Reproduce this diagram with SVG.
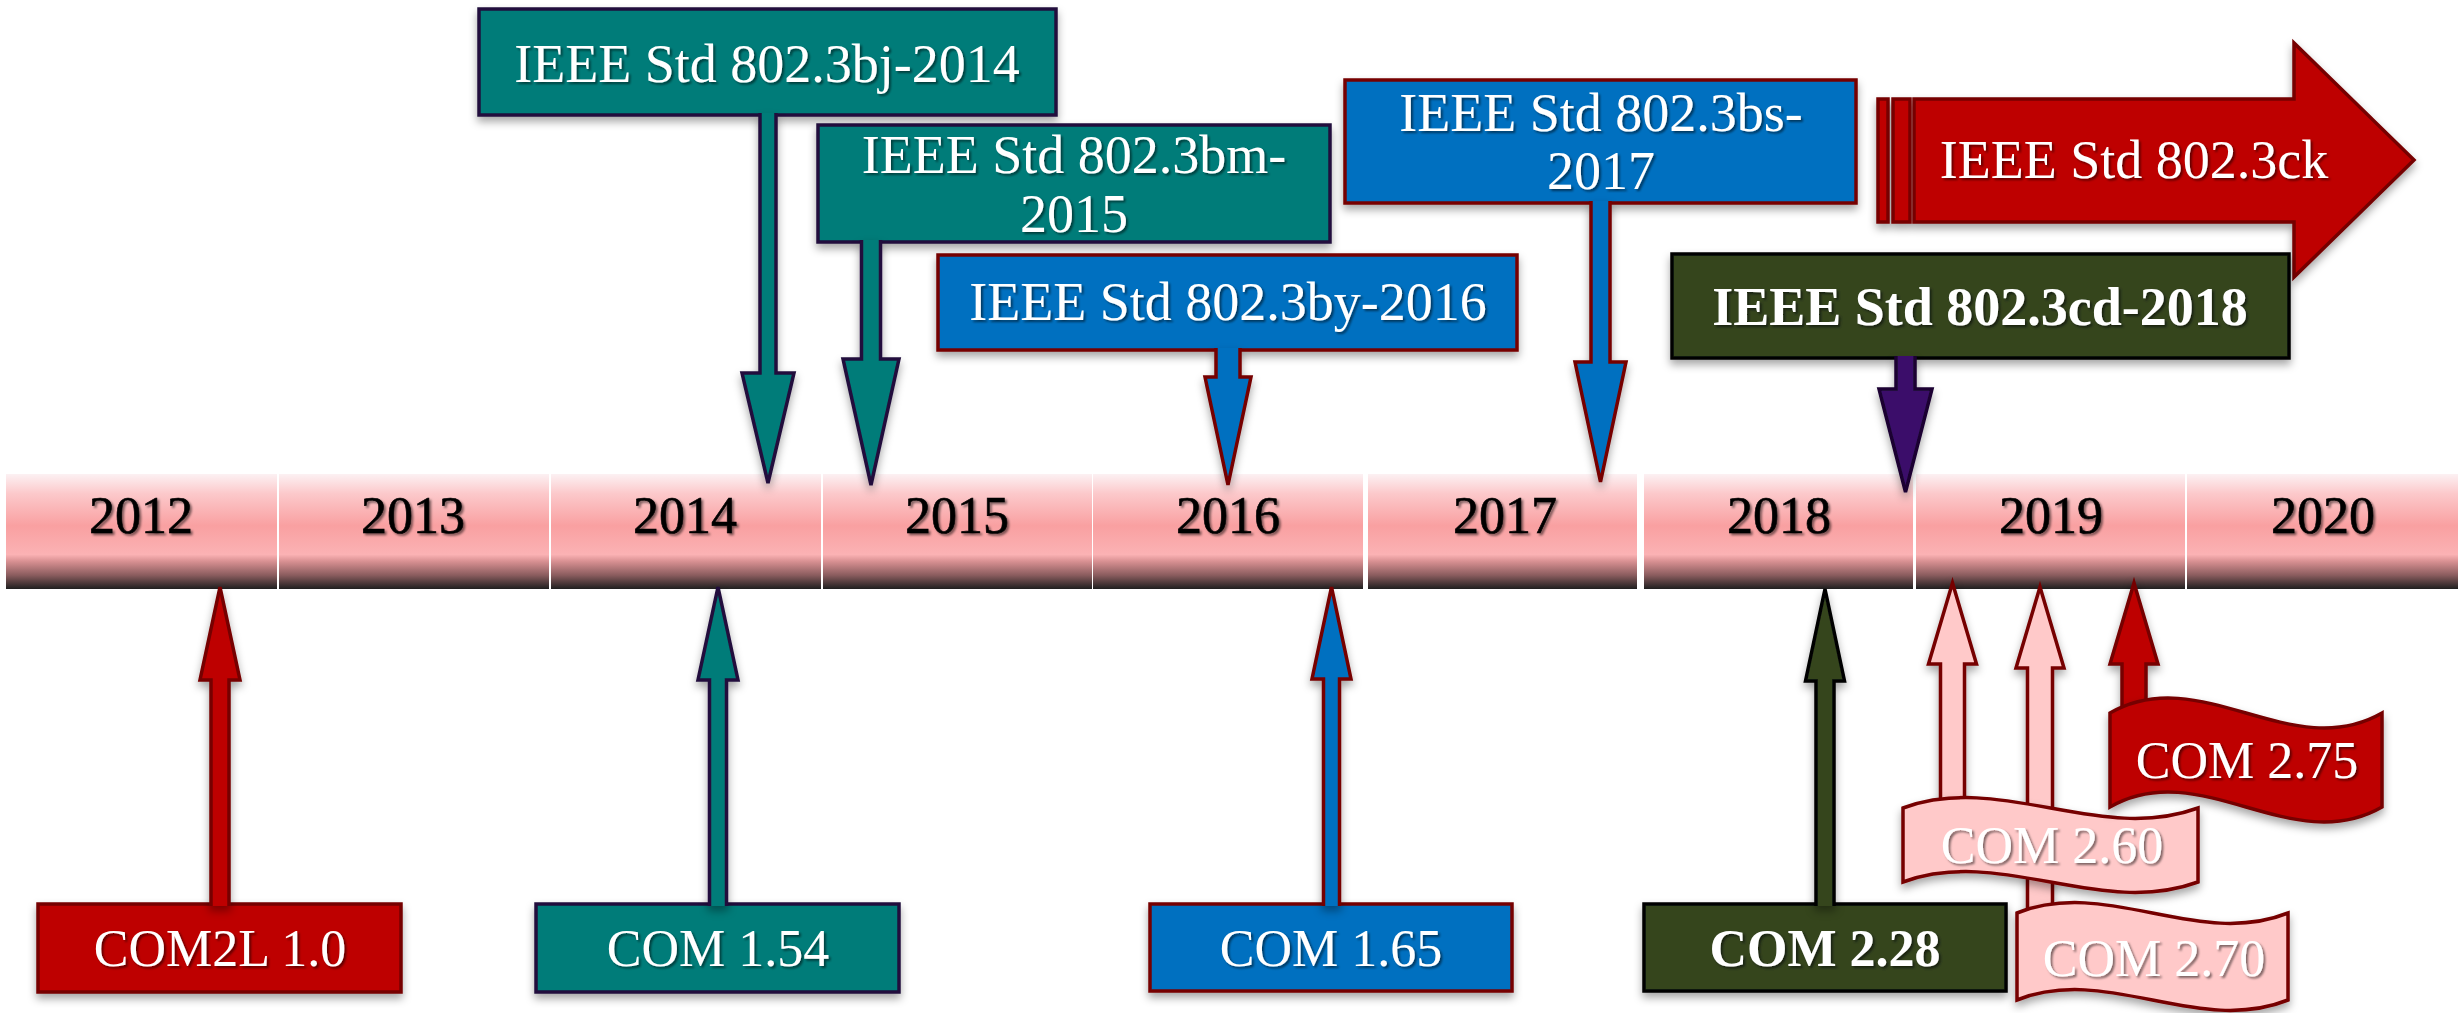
<svg xmlns="http://www.w3.org/2000/svg" width="2458" height="1013" viewBox="0 0 2458 1013">
<defs>
<linearGradient id="band" x1="0" y1="0" x2="0" y2="1">
<stop offset="0" stop-color="#fcf1f3"/>
<stop offset="0.17" stop-color="#fcc9cb"/>
<stop offset="0.45" stop-color="#f9a0a1"/>
<stop offset="0.70" stop-color="#fbb2b4"/>
<stop offset="0.76" stop-color="#d89092"/>
<stop offset="0.88" stop-color="#8a5c5e"/>
<stop offset="1" stop-color="#1f1f1f"/>
</linearGradient>
<filter id="sh" x="-10%" y="-10%" width="120%" height="130%">
<feDropShadow dx="0" dy="5" stdDeviation="4" flood-color="#000" flood-opacity="0.35"/>
</filter>
<filter id="tsh" x="-5%" y="-10%" width="110%" height="130%">
<feDropShadow dx="2" dy="2" stdDeviation="1.2" flood-color="#000" flood-opacity="0.5"/>
</filter>
</defs>
<style>
.yr{font-family:"Liberation Serif","Times New Roman",serif;font-size:52px;fill:#000;stroke:#000;stroke-width:0.6;text-anchor:middle;filter:url(#tsh)}
.lb{font-family:"Liberation Serif","Times New Roman",serif;font-size:54px;fill:#fff;text-anchor:middle;filter:url(#tsh)}
.lbs{font-family:"Liberation Serif","Times New Roman",serif;font-size:52px;fill:#fff;text-anchor:middle;filter:url(#tsh)}
.bold{font-weight:bold}
.teal{fill:#007c79;stroke:#22103c;stroke-width:3.5}
.blue{fill:#0070c0;stroke:#760000;stroke-width:3.5}
.red{fill:#be0000;stroke:#760000;stroke-width:3.5}
.olive{fill:#34441f;stroke:#050505;stroke-width:3.5}
.purple{fill:#3a0f6b;stroke:#1a0630;stroke-width:3.5}
.pink{fill:#ffc9c9;stroke:#760000;stroke-width:3.5}
.seg{fill:url(#band)}
</style>
<rect width="2458" height="1013" fill="#fff"/>
<g id="timeline">
<rect class="seg" x="6" y="474" width="271" height="115"/>
<rect class="seg" x="279" y="474" width="270" height="115"/>
<rect class="seg" x="551" y="474" width="270" height="115"/>
<rect class="seg" x="823" y="474" width="269" height="115"/>
<rect class="seg" x="1093" y="474" width="270" height="115"/>
<rect class="seg" x="1368" y="474" width="269" height="115"/>
<rect class="seg" x="1644" y="474" width="269" height="115"/>
<rect class="seg" x="1916" y="474" width="269" height="115"/>
<rect class="seg" x="2187" y="474" width="271" height="115"/>
<text class="yr" x="141" y="533">2012</text>
<text class="yr" x="413" y="533">2013</text>
<text class="yr" x="685" y="533">2014</text>
<text class="yr" x="957" y="533">2015</text>
<text class="yr" x="1228" y="533">2016</text>
<text class="yr" x="1505" y="533">2017</text>
<text class="yr" x="1779" y="533">2018</text>
<text class="yr" x="2051" y="533">2019</text>
<text class="yr" x="2323" y="533">2020</text>
</g>
<g id="bj2014" filter="url(#sh)">
<rect class="teal" x="479" y="9" width="577" height="106"/>
<text class="lb" x="767" y="82">IEEE Std 802.3bj-2014</text>
</g>
<g id="bm2015" filter="url(#sh)">
<rect class="teal" x="818" y="125" width="512" height="117"/>
<text class="lb" x="1074" y="173">IEEE Std 802.3bm-</text>
<text class="lb" x="1074" y="232">2015</text>
</g>
<g id="by2016" filter="url(#sh)">
<rect class="blue" x="938" y="255" width="579" height="95"/>
<text class="lb" x="1228" y="320">IEEE Std 802.3by-2016</text>
</g>
<g id="bs2017" filter="url(#sh)">
<rect class="blue" x="1345" y="80" width="511" height="123"/>
<text class="lb" x="1601" y="131">IEEE Std 802.3bs-</text>
<text class="lb" x="1601" y="189">2017</text>
</g>
<g id="ck" filter="url(#sh)">
<rect class="red" x="1878" y="99" width="10" height="123" stroke-width="3"/>
<rect class="red" x="1893" y="99" width="17" height="123" stroke-width="3"/>
<path class="red" d="M1914,99 H2294 V43 L2414,160 L2294,277 V222 H1914 Z"/>
<text class="lb" x="2134" y="178">IEEE Std 802.3ck</text>
</g>
<g id="cd2018" filter="url(#sh)">
<rect class="olive" x="1672" y="254" width="617" height="104"/>
<text class="lb bold" x="1980" y="325">IEEE Std 802.3cd-2018</text>
</g>
<g id="com2l10" filter="url(#sh)">
<rect class="red" x="38" y="904" width="363" height="88"/>
<text class="lbs" x="220" y="966">COM2L 1.0</text>
</g>
<g id="com154" filter="url(#sh)">
<rect class="teal" x="536" y="904" width="363" height="88"/>
<text class="lbs" x="718" y="966">COM 1.54</text>
</g>
<g id="com165" filter="url(#sh)">
<rect class="blue" x="1150" y="904" width="362" height="87"/>
<text class="lbs" x="1331" y="966">COM 1.65</text>
</g>
<g id="com228" filter="url(#sh)">
<rect class="olive" x="1644" y="904" width="362" height="87"/>
<text class="lbs bold" x="1825" y="966">COM 2.28</text>
</g>
<g id="connectors" filter="url(#sh)">
<path class="teal" d="M760,113 V373 H742 L768,483 L794,373 H776 V113"/>
<path class="teal" d="M861.5,240 V359 H843 L871,485 L899,359 H880.5 V240"/>
<path class="blue" d="M1216,348 V377 H1205 L1228,485 L1251,377 H1240 V348"/>
<path class="blue" d="M1591,201 V362 H1575 L1600.5,482 L1626,362 H1610 V201"/>
<path class="purple" d="M1896,356 V389 H1879 L1905.5,492 L1932,389 H1915 V356"/>
<path class="red" d="M211,906 V680 H200 L220,587 L240,680 H229 V906"/>
<path class="teal" d="M709.5,906 V680 H698 L718,587 L738,680 H726.5 V906"/>
<path class="blue" d="M1323.5,906 V679 H1312 L1331.5,587 L1351,679 H1339.5 V906"/>
<path class="olive" d="M1816,906 V681 H1805.5 L1825,589 L1844.5,681 H1834 V906"/>
<path class="pink" d="M1940.5,806 V664 H1928.5 L1952.5,583 L1976.5,664 H1964.5 V806"/>
<path class="pink" d="M2027.5,915 V668 H2016 L2040,587 L2064,668 H2052.5 V915"/>
<path class="red" d="M2122,720 V664 H2110 L2134,583 L2158,664 H2146 V720"/>
</g>
<g id="com260" filter="url(#sh)">
<path class="pink" d="M1903,808 C2001.3,772 2099.7,844 2198,808 V882 C2099.7,918 2001.3,846 1903,882 Z"/>
<text class="lbs" x="2052" y="863">COM 2.60</text>
</g>
<g id="com270" filter="url(#sh)">
<path class="pink" d="M2017,913 C2107.3,877 2197.7,949 2288,913 V1000 C2197.7,1036 2107.3,964 2017,1000 Z"/>
<text class="lbs" x="2154" y="976">COM 2.70</text>
</g>
<g id="com275" filter="url(#sh)">
<path class="red" d="M2110,713 C2200.7,661 2291.3,765 2382,713 V807 C2291.3,859 2200.7,755 2110,807 Z"/>
<text class="lbs" x="2247" y="778">COM 2.75</text>
</g>
</svg>
